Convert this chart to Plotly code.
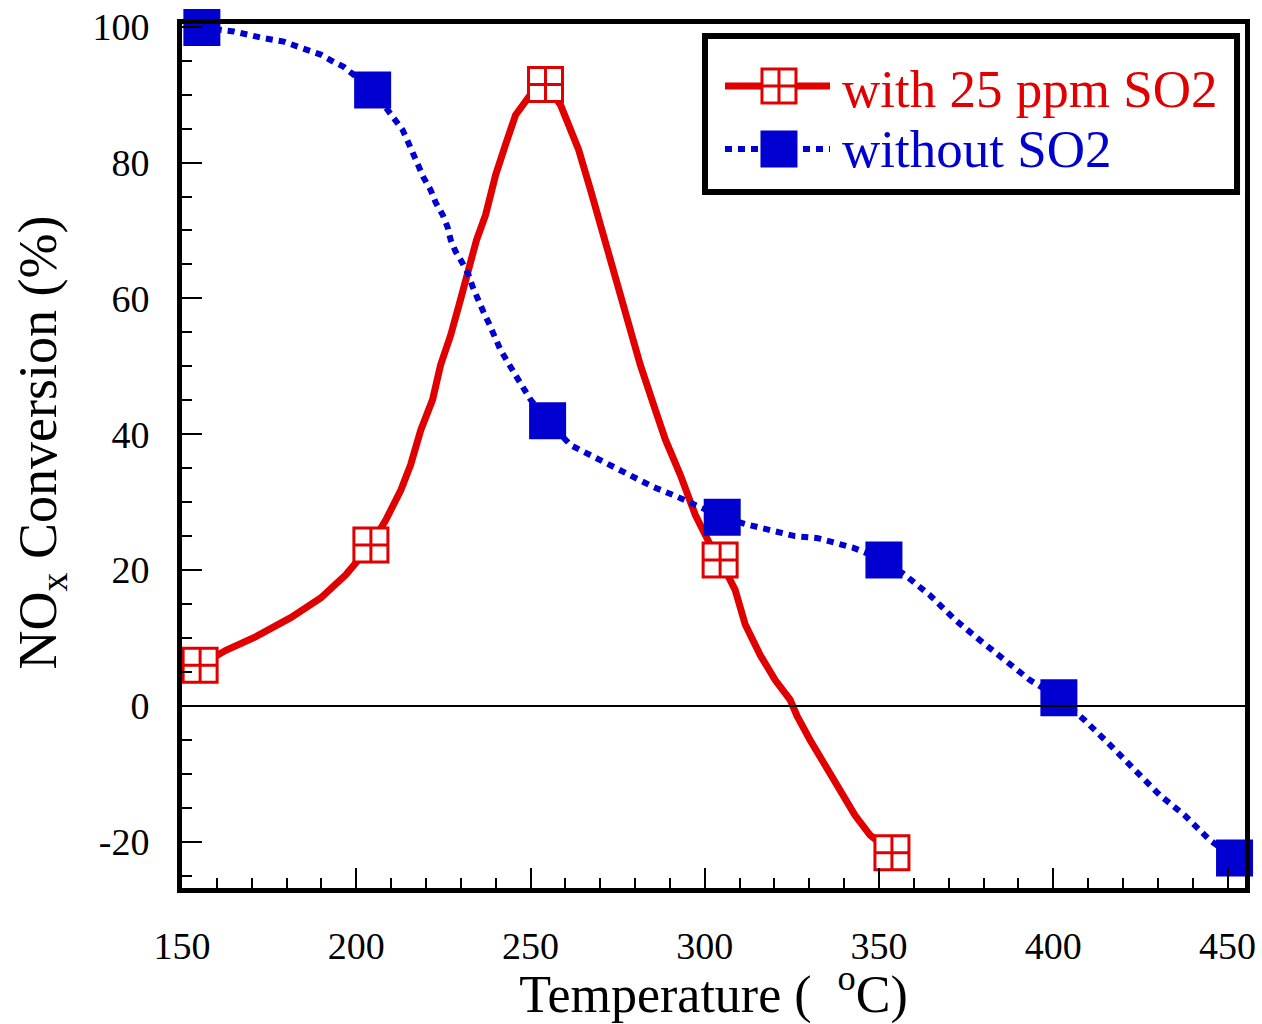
import plotly.graph_objects as go

# ---------------- data ----------------
red_curve_T = [155.2, 162.6, 171.2, 181.2, 189.8, 197.0, 204.2, 208.5, 212.8, 215.6,
               218.5, 221.9, 224.2, 227.1, 229.9, 232.2, 234.5, 237.1, 240.0, 242.8,
               245.7, 250.0, 254.3, 258.6, 261.5, 263.8, 267.2, 270.1, 273.5, 277.2,
               281.5, 285.8, 288.7, 293.0, 297.3, 301.6, 304.4, 308.7, 311.6, 315.9,
               320.2, 324.5, 326.5, 330.2, 334.5, 338.8, 343.1, 347.4, 353.7]
red_curve_conv = [6.0, 8.2, 10.2, 13.0, 15.9, 19.3, 23.7, 27.4, 31.8, 35.5,
                  40.6, 45.1, 50.2, 54.6, 59.8, 64.2, 68.6, 72.3, 78.2, 82.6,
                  87.0, 90.0, 91.5, 88.5, 84.8, 81.9, 76.0, 70.8, 64.2, 57.6,
                  50.2, 43.6, 39.2, 34.0, 28.1, 23.7, 21.5, 17.1, 12.0, 7.5,
                  3.8, 0.9, -1.5, -5.0, -8.7, -12.4, -16.1, -19.0, -21.6]
red_marker_T = [155.2, 204.2, 254.3, 304.4, 353.7]
red_marker_conv = [6.0, 23.7, 91.5, 21.5, -21.6]

blue_curve_T = [155.7, 164.9, 172.6, 179.2, 184.1, 189.8, 193.6, 196.4, 204.7, 209.9,
                213.3, 214.8, 216.5, 217.6, 219.3, 221.3, 222.8, 224.8, 226.2, 227.1,
                228.5, 230.5, 232.2, 233.4, 234.8, 236.5, 238.0, 241.4, 245.7, 250.0,
                254.9, 261.5, 271.5, 278.1, 285.0, 292.1, 298.7, 305.0, 312.2, 319.3,
                325.9, 332.5, 339.4, 342.5, 351.4, 357.4, 364.6, 371.8, 378.9, 386.1,
                393.3, 401.6, 409.0, 416.2, 423.4, 430.5, 437.7, 444.8, 452.0]
blue_curve_conv = [99.9, 99.3, 98.4, 97.8, 96.9, 95.9, 94.8, 94.1, 90.7, 87.0,
                   84.8, 83.1, 81.1, 79.4, 77.8, 76.0, 74.1, 72.3, 70.5, 68.6,
                   66.9, 65.2, 63.5, 61.7, 59.8, 58.0, 56.4, 52.4, 48.7, 45.1,
                   42.0, 38.4, 35.8, 34.0, 32.3, 30.8, 29.3, 27.8, 26.7, 25.9,
                   25.0, 24.7, 23.7, 23.3, 21.5, 19.3, 16.3, 12.7, 9.7, 6.8,
                   3.8, 1.2, -2.1, -5.7, -9.4, -13.1, -16.1, -19.7, -22.4]
blue_marker_T = [155.7, 204.7, 254.9, 305.0, 351.4, 401.6, 452.0]
blue_marker_conv = [99.9, 90.7, 42.0, 27.8, 21.5, 1.2, -22.4]

x_tick_vals = [150, 200, 250, 300, 350, 400, 450]
x_tick_text = ["150", "200", "250", "300", "350", "400", "450"]
y_tick_vals = [-20, 0, 20, 40, 60, 80, 100]
y_tick_text = ["-20", "0", "20", "40", "60", "80", "100"]

series_names = ["with 25 ppm SO2", "without SO2"]
x_title = "Temperature (  <sup>o</sup>C)"
y_title = "&nbsp;&nbsp;NO<sub>x</sub> Conversion (%)"

# ---------------- styles ----------------
RED = "#E00000"
BLUE = "#0000D0"
FONT = "Liberation Serif"

fig = go.Figure()

fig.add_trace(go.Scatter(x=red_curve_T, y=red_curve_conv, mode="lines",
                         line=dict(color=RED, width=7), showlegend=False,
                         hoverinfo="skip"))
fig.add_trace(go.Scatter(x=red_marker_T, y=red_marker_conv, mode="markers",
                         marker=dict(symbol="square-cross", size=34, color="white",
                                     line=dict(color=RED, width=3)),
                         cliponaxis=False, showlegend=False))
fig.add_trace(go.Scatter(x=blue_curve_T, y=blue_curve_conv, mode="lines",
                         line=dict(color=BLUE, width=6, dash="7px,6px"),
                         showlegend=False, hoverinfo="skip"))
fig.add_trace(go.Scatter(x=blue_marker_T, y=blue_marker_conv, mode="markers",
                         marker=dict(symbol="square", size=37, color=BLUE,
                                     line=dict(width=0)),
                         cliponaxis=False, showlegend=False))

# ---------------- manual legend ----------------
L_X0, L_X1 = 0.492, 0.9925
L_Y0, L_Y1 = 0.8056, 0.986
S_X0, S_X1, S_XM = 0.5108, 0.6096, 0.5616
ROW_Y = [0.9282, 0.8553]
TXT_X = 0.619
TXT_Y = [0.925, 0.855]

shapes = [
    dict(type="rect", xref="paper", yref="paper", x0=L_X0, x1=L_X1, y0=L_Y0, y1=L_Y1,
         line=dict(color="black", width=6), fillcolor="white", layer="below"),
    dict(type="line", xref="paper", yref="paper", x0=S_X0, x1=S_X1, y0=ROW_Y[0], y1=ROW_Y[0],
         line=dict(color=RED, width=7), layer="below"),
    dict(type="line", xref="paper", yref="paper", x0=S_X0, x1=S_X1, y0=ROW_Y[1], y1=ROW_Y[1],
         line=dict(color=BLUE, width=6, dash="7px,6px"), layer="below"),
    # zero line drawn above the markers
    dict(type="line", xref="paper", yref="y", x0=0, x1=1, y0=0, y1=0,
         line=dict(color="black", width=2), layer="above"),
]

fig.add_trace(go.Scatter(x=[S_XM], y=[ROW_Y[0]], xaxis="x2", yaxis="y2", mode="markers",
                         marker=dict(symbol="square-cross", size=34, color="white",
                                     line=dict(color=RED, width=3)),
                         cliponaxis=False, showlegend=False, hoverinfo="skip"))
fig.add_trace(go.Scatter(x=[S_XM], y=[ROW_Y[1]], xaxis="x2", yaxis="y2", mode="markers",
                         marker=dict(symbol="square", size=37, color=BLUE),
                         cliponaxis=False, showlegend=False, hoverinfo="skip"))

annotations = [
    dict(xref="paper", yref="paper", x=TXT_X, y=TXT_Y[0], text=series_names[0],
         showarrow=False, xanchor="left", yanchor="middle",
         font=dict(family=FONT, size=53, color=RED)),
    dict(xref="paper", yref="paper", x=TXT_X, y=TXT_Y[1], text=series_names[1],
         showarrow=False, xanchor="left", yanchor="middle",
         font=dict(family=FONT, size=53, color=BLUE)),
]

axis_common = dict(
    showline=True, linewidth=5, linecolor="black", mirror=True,
    showgrid=False, zeroline=False, automargin=False,
    ticks="inside", ticklen=20, tickwidth=2, tickcolor="black",
    tickfont=dict(family=FONT, size=38, color="black"),
)

fig.update_layout(
    width=1262, height=1024,
    margin=dict(l=182, r=17, t=24, b=136),
    paper_bgcolor="white", plot_bgcolor="white",
    showlegend=False,
    shapes=shapes, annotations=annotations,
    xaxis=dict(range=[150, 455], tickmode="array", tickvals=x_tick_vals, ticktext=x_tick_text,
               minor=dict(dtick=10, tick0=150, ticks="inside", ticklen=10, tickwidth=2, tickcolor="black"),
               ticklabelstandoff=20,
               title=dict(text=x_title, font=dict(family=FONT, size=52, color="black"), standoff=26),
               **axis_common),
    yaxis=dict(range=[-26.8, 100.4], tickmode="array", tickvals=y_tick_vals, ticktext=y_tick_text,
               minor=dict(dtick=5, tick0=0, ticks="inside", ticklen=10, tickwidth=2, tickcolor="black"),
               ticklabelstandoff=20,
               title=dict(text=y_title, font=dict(family=FONT, size=54, color="black"), standoff=20),
               **axis_common),
    xaxis2=dict(overlaying="x", range=[0, 1], visible=False),
    yaxis2=dict(overlaying="y", range=[0, 1], visible=False),
)

fig.write_html("out.html")
